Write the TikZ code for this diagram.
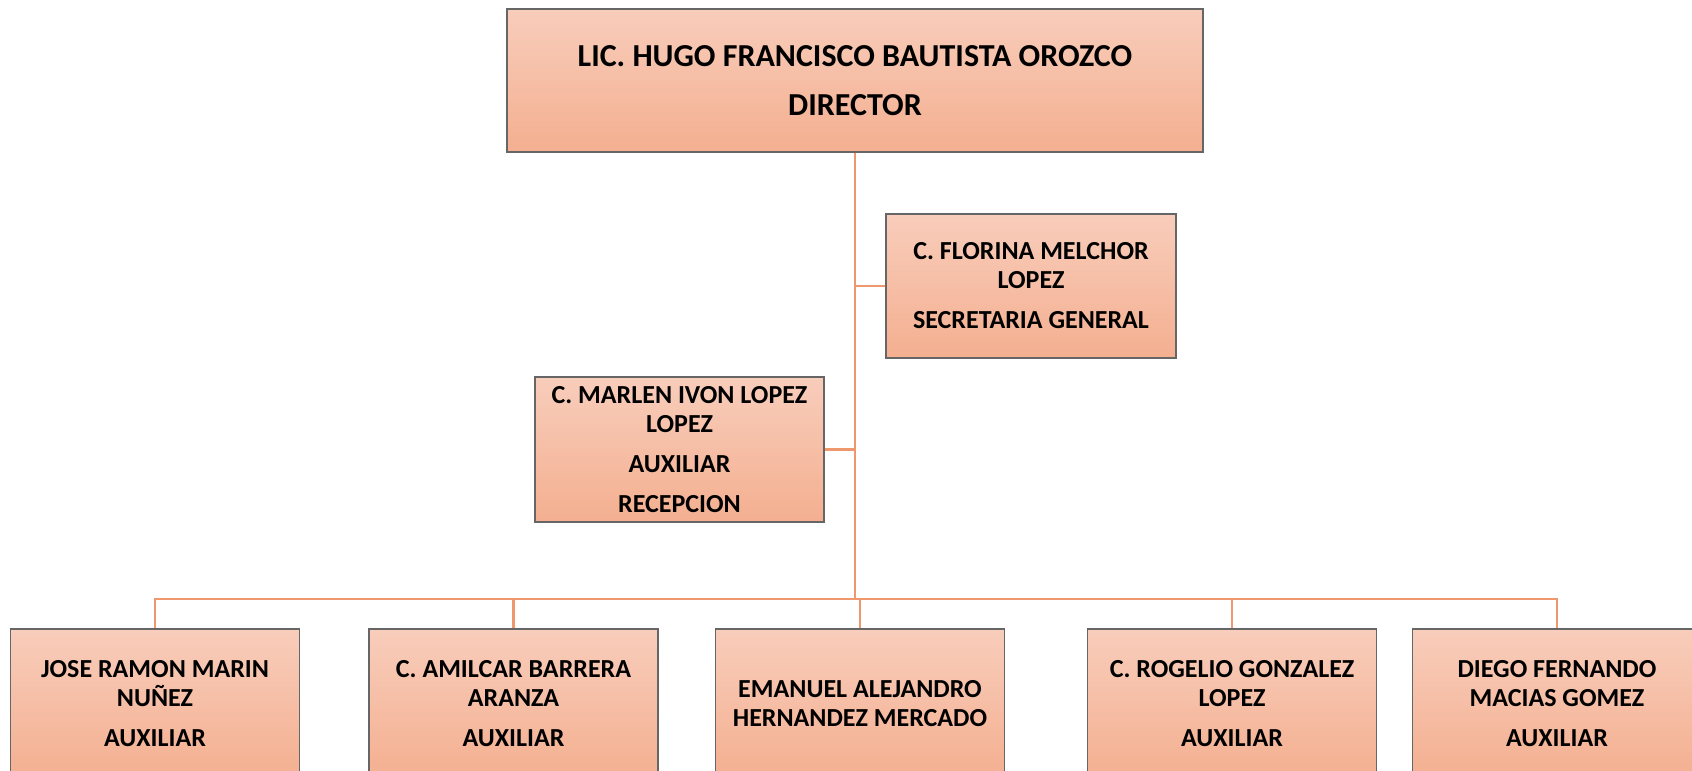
\documentclass[tikz,border=0pt]{standalone}
\usepackage{fontspec}
\setmainfont{Carlito}
\definecolor{peachtop}{HTML}{F8CDBB}
\definecolor{peachbot}{HTML}{F4AF90}
\definecolor{lineorange}{HTML}{F0986D}
\begin{document}
\begin{tikzpicture}[x=1pt,y=-1pt]
\tikzset{cargo/.style={draw=black!60,line width=1.2pt,top color=peachtop,bottom color=peachbot,
  align=center,inner sep=0pt,minimum width=289pt,minimum height=145pt,
  font=\bfseries\fontsize{26}{29}\selectfont}}
\tikzset{linea/.style={draw=lineorange,line width=2.8pt}}
\clip (0,0) rectangle (1692,771);
\fill[white] (0,0) rectangle (1692,771);
\node[cargo,minimum width=696pt,minimum height=143pt,font=\bfseries\fontsize{32}{49}\selectfont] (director) at (855,80.5)
  {LIC. HUGO FRANCISCO BAUTISTA OROZCO\\DIRECTOR};
\node[cargo,minimum width=290pt,minimum height=144pt] (secretaria) at (1031,286)
  {C. FLORINA MELCHOR\\LOPEZ\\[11pt]SECRETARIA GENERAL};
\node[cargo] (recepcion) at (679.5,449.5)
  {C. MARLEN IVON LOPEZ\\LOPEZ\\[11pt]AUXILIAR\\[11pt]RECEPCION};
\node[cargo,minimum height=150pt] (aux1) at (155,704) {JOSE RAMON MARIN\\NUÑEZ\\[11pt]AUXILIAR};
\node[cargo,minimum height=150pt] (aux2) at (513.5,704) {C. AMILCAR BARRERA\\ARANZA\\[11pt]AUXILIAR};
\node[cargo,minimum height=150pt] (aux3) at (860,704) {EMANUEL ALEJANDRO\\HERNANDEZ MERCADO};
\node[cargo,minimum height=150pt] (aux4) at (1232,704) {C. ROGELIO GONZALEZ\\LOPEZ\\[11pt]AUXILIAR};
\node[cargo,minimum height=150pt] (aux5) at (1557,704) {DIEGO FERNANDO\\MACIAS GOMEZ\\[11pt]AUXILIAR};
\coordinate (bus) at (855,599);
\draw[linea] (director.south) -- (bus);
\draw[linea] (director.south |- secretaria.west) -- (secretaria.west);
\draw[linea] (director.south |- recepcion.east) -- (recepcion.east);
\foreach \n in {aux1,aux2,aux3,aux4,aux5}
  \draw[linea] (bus) -| (\n.north);
\end{tikzpicture}
\end{document}
